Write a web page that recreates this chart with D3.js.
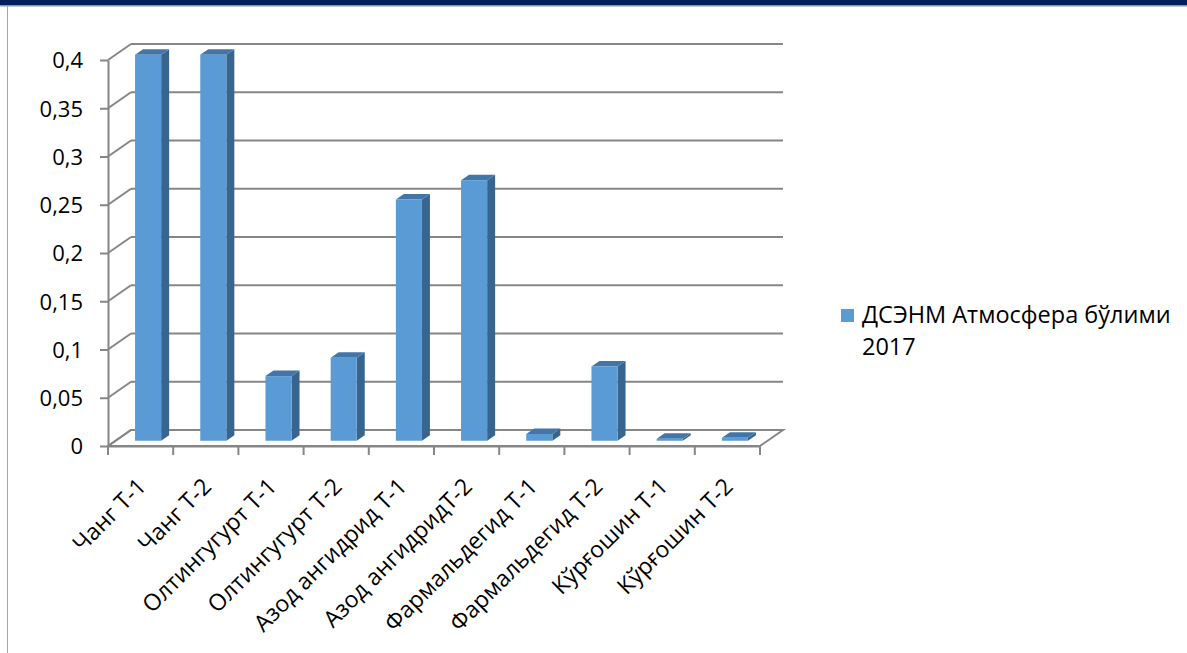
<!DOCTYPE html>
<html>
<head>
<meta charset="utf-8">
<script src="https://cdn.jsdelivr.net/npm/d3@7"></script>
<style>
  body { margin: 0; background: #fff; }
  svg { display: block; }
  text { font-family: "Open Sans", "Noto Sans", sans-serif; fill: #000; }
</style>
</head>
<body>
<svg id="chart" width="1187" height="653"></svg>
<script>
// data
const categories = ["Чанг Т-1", "Чанг Т-2", "Олтингугурт Т-1", "Олтингугурт Т-2",
    "Азод ангидрид Т-1", "Азод ангидридТ-2", "Фармальдегид Т-1", "Фармальдегид Т-2",
    "Кўрғошин Т-1", "Кўрғошин Т-2"];
const values = [0.4, 0.4, 0.067, 0.086, 0.25, 0.27, 0.007, 0.077, 0.002, 0.003];
const yTicks = [0, 0.05, 0.1, 0.15, 0.2, 0.25, 0.3, 0.35, 0.4];
const seriesName = ["ДСЭНМ Атмосфера бўлими", "2017"];

const svg = d3.select("#chart");

// slide frame: navy band on top and thin line at left
svg.append("rect").attr("x", 0).attr("y", 0).attr("width", 1187).attr("height", 5).attr("fill", "#001f5c");
svg.append("rect").attr("x", 0).attr("y", 5).attr("width", 1187).attr("height", 1.5).attr("fill", "#8e92a4");
svg.append("line").attr("x1", 7.5).attr("x2", 7.5).attr("y1", 6).attr("y2", 653)
    .attr("stroke", "#a6a6a6").attr("stroke-width", 1);

// front plane
let plotLeft = 108, plotRight = 760, plotBottom = 446, plotTop = 60;
// depth of the whole plot and of one bar
let dx = 23, dy = -16;
let bdx = 8, bdy = -5.5;

let x = d3.scaleBand().domain(categories).range([plotLeft, plotRight]).paddingInner(0).paddingOuter(0);
let y = d3.scaleLinear().domain([0, 0.4]).range([plotBottom, plotTop]);

let gridColor = "#868686";

// back wall gridlines + side wall diagonals
let grid = svg.append("g");
yTicks.forEach(function (t) {
    if (t > 0) {
        grid.append("line")
            .attr("x1", plotLeft + dx).attr("x2", plotRight + dx)
            .attr("y1", y(t) + dy).attr("y2", y(t) + dy)
            .attr("stroke", gridColor).attr("stroke-width", 2);
    }
    grid.append("line")
        .attr("x1", plotLeft).attr("x2", plotLeft + dx)
        .attr("y1", y(t)).attr("y2", y(t) + dy)
        .attr("stroke", gridColor).attr("stroke-width", 2);
});

// floor
grid.append("path")
    .attr("d", "M" + plotLeft + "," + y(0) + "L" + (plotLeft + dx) + "," + (y(0) + dy) +
        "L" + (plotRight + dx) + "," + (y(0) + dy) + "L" + plotRight + "," + y(0) + "Z")
    .attr("fill", "none").attr("stroke", gridColor).attr("stroke-width", 2);

// y axis
let yAxis = svg.append("g")
    .attr("transform", "translate(" + plotLeft + ",0)")
    .call(d3.axisLeft(y).tickValues(yTicks).tickSize(8).tickSizeOuter(0)
        .tickFormat(function (d) { return String(d).replace(".", ","); }));
yAxis.select(".domain").attr("stroke", gridColor).attr("stroke-width", 2);
yAxis.selectAll(".tick line").attr("stroke", gridColor).attr("stroke-width", 2);
yAxis.selectAll(".tick text")
    .attr("x", -25).attr("dy", "0.36em")
    .attr("font-size", 22).attr("font-family", "Open Sans");

// x axis: ticks between categories, labels rotated
let xAxis = svg.append("g")
    .attr("transform", "translate(0," + plotBottom + ")")
    .call(d3.axisBottom(x).tickSize(0).tickSizeOuter(0));
xAxis.select(".domain").attr("stroke", gridColor).attr("stroke-width", 2);
xAxis.selectAll(".tick text")
    .attr("font-size", 23).attr("font-family", "Open Sans")
    .attr("text-anchor", "end")
    .attr("dy", 0).attr("y", 0)
    .attr("transform", "translate(7,42) rotate(-45)");
let bounds = categories.map(function (c) { return x(c); }).concat([plotRight]);
xAxis.selectAll(".sep").data(bounds).enter().append("line")
    .attr("class", "sep")
    .attr("x1", function (d) { return d; }).attr("x2", function (d) { return d; })
    .attr("y1", 0).attr("y2", 9)
    .attr("stroke", gridColor).attr("stroke-width", 2);

// bars
let barW = x.bandwidth() / 2.5;
let offX = (dx - bdx) / 2, offY = (dy - bdy) / 2;
let bars = svg.selectAll(".bar").data(categories).enter().append("g").attr("class", "bar");

bars.each(function (c, i) {
    let g = d3.select(this);
    let x0 = x(c) + (x.bandwidth() - barW) / 2 + offX;
    let x1 = x0 + barW;
    let yb = y(0) + offY;
    let yt = y(values[i]) + offY;
    // side
    g.append("path")
        .attr("d", "M" + x1 + "," + yt + "L" + (x1 + bdx) + "," + (yt + bdy) +
            "L" + (x1 + bdx) + "," + (yb + bdy) + "L" + x1 + "," + yb + "Z")
        .attr("fill", "#386590");
    // top
    g.append("path")
        .attr("d", "M" + x0 + "," + yt + "L" + (x0 + bdx) + "," + (yt + bdy) +
            "L" + (x1 + bdx) + "," + (yt + bdy) + "L" + x1 + "," + yt + "Z")
        .attr("fill", "#4376a8");
    // front
    g.append("rect")
        .attr("x", x0).attr("y", yt)
        .attr("width", barW).attr("height", yb - yt)
        .attr("fill", "#5b9bd5");
});

// legend
let legend = svg.append("g").attr("transform", "translate(841,309)");
legend.append("rect").attr("width", 13).attr("height", 13).attr("fill", "#5b9bd5");
legend.selectAll("text").data(seriesName).enter().append("text")
    .attr("x", 21).attr("y", function (d, i) { return 14 + i * 32; })
    .attr("font-size", 23.5)
    .text(function (d) { return d; });
</script>
</body>
</html>
